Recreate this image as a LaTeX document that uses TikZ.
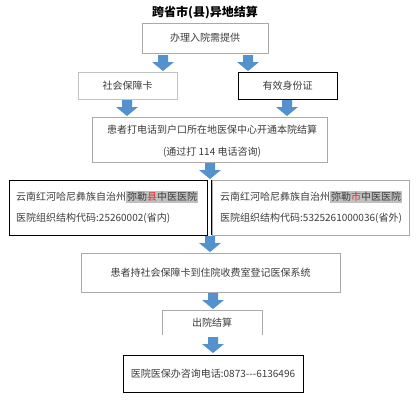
\documentclass[tikz,border=0pt]{standalone}
\usepackage{fontspec}
\setmainfont{Noto Sans CJK SC}
\definecolor{arrowblue}{RGB}{84,146,205}
\definecolor{txt}{RGB}{60,60,60}
\definecolor{lightb}{RGB}{170,170,170}
\definecolor{hl}{RGB}{192,192,192}
\definecolor{redt}{RGB}{225,45,45}
\begin{document}
\begin{tikzpicture}[x=1pt,y=-1pt,
  every node/.style={inner sep=0pt, text=txt, font=\fontsize{10}{12}\selectfont},
  lbox/.style={draw=lightb, line width=0.6pt},
  dbox/.style={draw=black, line width=0.8pt},
  barrow/.pic={\fill[arrowblue] (-5,0) -- (5,0) -- (5,7) -- (11,7) -- (0,16) -- (-11,7) -- (-5,7) -- cycle;}
]
\useasboundingbox[fill=white] (0,0) rectangle (419,400);

\node[font=\fontsize{12}{14}\selectfont\bfseries, text=black] (title) at (205,13) {跨省市(县)异地结算};

\node[lbox, minimum width=126pt, minimum height=30pt] (b1) at (205,38) {办理入院需提供};

\pic at (163,55) {barrow};
\pic at (248,55) {barrow};

\node[lbox, draw=lightb!70, minimum width=99pt, minimum height=27pt] (card) at (127.5,85.5) {社会保障卡};
\node[dbox, minimum width=99pt, minimum height=27pt] (idc) at (287.5,85.5) {有效身份证};

\pic at (127,100) {barrow};
\pic at (287,100) {barrow};

\node[lbox, minimum width=235pt, minimum height=45pt] (call) at (209.5,140) {};
\node (call1) at (212,130) {患者打电话到户口所在地医保中心开通本院结算};
\node (call2) at (212,152) {(通过打 114 电话咨询)};

\pic at (210,163) {barrow};

\node[dbox, minimum width=198pt, minimum height=55pt] (lh) at (108,207.5) {};
\node[anchor=west] (lh1) at (16,197) {云南红河哈尼彝族自治州{\setlength\fboxsep{1pt}\colorbox{hl}{弥勒\textcolor{redt}{县}中医医院}}};
\node[anchor=west] (lh2) at (16,218) {医院组织结构代码:25260002(省内)};

\node[lbox, minimum width=197pt, minimum height=55pt] (rh) at (310.5,207.5) {};
\draw[line width=0.7pt] (rh.north west) -- (rh.south west);
\node[anchor=west] (rh1) at (220,197) {云南红河哈尼彝族自治州{\setlength\fboxsep{1pt}\colorbox{hl}{弥勒\textcolor{redt}{市}中医医院}}};
\node[anchor=west] (rh2) at (220,218) {医院组织结构代码:5325261000036(省外)};

\pic at (210,236) {barrow};

\node[lbox, minimum width=259pt, minimum height=39pt] (reg) at (210.5,272.5) {患者持社会保障卡到住院收费室登记医保系统};

\pic at (213,293) {barrow};

\node[minimum width=100pt, minimum height=25pt] (out) at (212,322.5) {出院结算};
\draw[lightb, line width=0.6pt] (out.south west) -- (out.north west) -- (out.north east) -- (out.south east);

\pic at (213,337) {barrow};

\node[dbox, minimum width=180pt, minimum height=37pt] (tel) at (213,373.5) {医院医保办咨询电话:0873-{}-{}-6136496};
\end{tikzpicture}
\end{document}
